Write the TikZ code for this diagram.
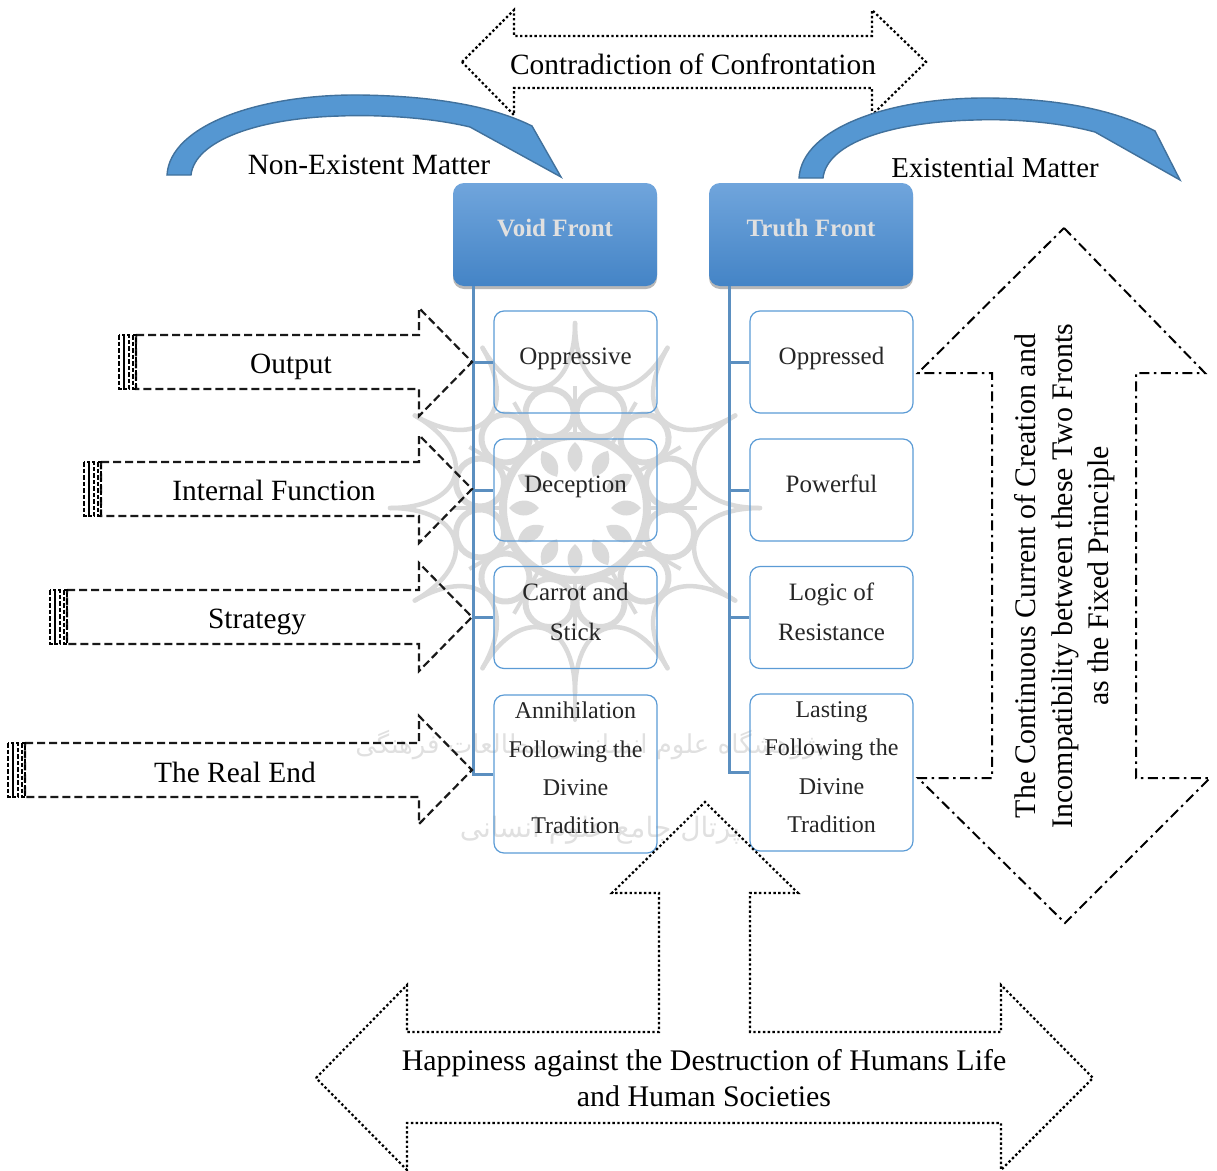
\documentclass[tikz,border=0pt]{standalone}
\usepackage{fontspec}
\setmainfont{Liberation Serif}
\newfontfamily\arabicfont[Script=Arabic]{DejaVu Sans}
\TeXXeTstate=1
\usetikzlibrary{shadows,calc}
\definecolor{blueline}{HTML}{5B9BD5}
\definecolor{trunkblue}{HTML}{5B8FC0}
\definecolor{arcfill}{HTML}{5597D2}
\definecolor{arcline}{HTML}{41719C}
\definecolor{headtop}{HTML}{70A5DC}
\definecolor{headbot}{HTML}{4484C6}
\definecolor{wm}{HTML}{DADADA}
\definecolor{wmlight}{HTML}{E0E0E0}
\tikzset{
  x=1pt,y=-1pt,
  bigtext/.style={font=\fontsize{29.4}{36}\selectfont,text=black,align=center,inner sep=0pt},
  widetext/.style={font=\fontsize{29.9}{36.5}\selectfont,text=black,align=center,inner sep=0pt},
  boxtext/.style={font=\fontsize{25}{39.5}\selectfont,text=black!85,align=center,inner sep=0pt},
  boxlong/.style={font=\fontsize{24}{38.4}\selectfont,text=black!85,align=center,inner sep=0pt},
  headbox/.style={rounded corners=11pt,top color=headtop,bottom color=headbot,draw=none,
     drop shadow={shadow xshift=0pt,shadow yshift=-3pt,fill=black,opacity=.28},
     minimum width=204pt,minimum height=103pt,inner sep=0pt},
  headtext/.style={font=\fontsize{25}{30}\selectfont\bfseries,text=white!88!black,inner sep=0pt},
  childbox/.style={rounded corners=10pt,draw=blueline,line width=1.2pt,minimum width=163pt,inner sep=0pt},
  trunk/.style={draw=trunkblue,line width=3pt},
  arcshape/.style={fill=arcfill,draw=arcline,line width=1.4pt,line join=miter},
  dotline/.style={draw=black,line width=2.2pt,dash pattern=on 2.4pt off 2.4pt},
  dashline/.style={draw=black!90,line width=2.2pt,dash pattern=on 8pt off 4pt},
  stripeline/.style={draw=black,line width=2pt,dash pattern=on 4.5pt off 2pt},
  dashdot/.style={draw=black,line width=2pt,dash pattern=on 10pt off 4.5pt on 2.5pt off 4.5pt},
  wmline/.style={draw=wm,line width=6pt,line cap=round}
}
\begin{document}
\begin{tikzpicture}
\useasboundingbox (0,0) rectangle (1217,1170);
% watermark
\begin{scope}[shift={(575,508)}]
  \foreach \a in {0,30,...,330}{
    \begin{scope}[rotate=\a]
      \draw[wmline,line width=4.5pt] (185,0) .. controls (110,0) and (95.3,55) .. (160.2,92.5);
      \draw[wmline] (95,25.5) circle (24);
      \draw[wm,line width=4pt] (72,0) -- (122,0);
      \fill[wm] (36,0) .. controls (46,-11) and (58,-9) .. (66,0) .. controls (58,9) and (46,11) .. (36,0) -- cycle;
    \end{scope}
  }
  \draw[wm,line width=8pt] (0,0) circle (72);
  \draw[wmline,line width=4pt] (0,185) -- (0,212);
\end{scope}
\node[font=\fontsize{26}{26}\selectfont\arabicfont,text=wmlight,inner sep=0pt] (wmA) at (590,745) {\beginR پژوهشگاه علوم انسانی و مطالعات فرهنگی\endR};
\node[font=\fontsize{28}{28}\selectfont\arabicfont,text=wmlight,inner sep=0pt] (wmB) at (600,830) {\beginR پرتال جامع علوم انسانی\endR};

% top arrow
\draw[dotline] (462,62) -- (514,10) -- (514,36) -- (872,36) -- (872,10) -- (926,62) -- (872,115) -- (872,88) -- (514,88) -- (514,115) -- cycle;
\node[bigtext] (contra) at (693,64) {Contradiction of Confrontation};

% curved arrows
\draw[arcshape] (167,175) .. controls (170,125) and (260,94) .. (360,95) .. controls (430,96) and (490,105) .. (532,126) -- (561,177) -- (470,127) .. controls (420,115) and (360,115) .. (340,116) .. controls (260,118) and (195,140) .. (191,175) -- cycle;
\draw[arcshape] (799,178) .. controls (802,128) and (890,97) .. (990,98) .. controls (1060,99) and (1115,110) .. (1155,131) -- (1180,180) -- (1095,132) .. controls (1050,120) and (1000,119) .. (975,120) .. controls (890,122) and (827,143) .. (823,178) -- cycle;
\node[bigtext] (nonex) at (369,165) {Non-Existent Matter};
\node[bigtext,font=\fontsize{28.8}{36}\selectfont] (exist) at (995,168) {Existential Matter};

% headers
\node[headbox] (void) at (555,234.5) {};
\node[headbox] (truth) at (811,234.5) {};
\node[headtext] (voidT) at (555,228) {Void Front};
\node[headtext] (truthT) at (811,228) {Truth Front};

% child boxes
\node[childbox,minimum height=102pt] (l1) at (575.5,362) {};
\node[childbox,minimum height=102pt] (l2) at (575.5,490) {};
\node[childbox,minimum height=102pt] (l3) at (575.5,617.5) {};
\node[childbox,minimum height=158pt] (l4) at (575.5,774) {};
\node[childbox,minimum height=102pt] (r1) at (831.5,362) {};
\node[childbox,minimum height=102pt] (r2) at (831.5,490) {};
\node[childbox,minimum height=102pt] (r3) at (831.5,617.5) {};
\node[childbox,minimum height=157pt] (r4) at (831.5,772.5) {};

\node[boxtext] at (575.5,359) {Oppressive};
\node[boxtext] at (575.5,487) {Deception};
\node[boxtext] at (575.5,612) {Carrot and\\Stick};
\node[boxlong] at (575.5,768) {Annihilation\\Following the\\Divine\\Tradition};
\node[boxtext] at (831.5,358) {Oppressed};
\node[boxtext] at (831.5,484) {Powerful};
\node[boxtext] at (831.5,612) {Logic of\\Resistance};
\node[boxlong] at (831.5,767) {Lasting\\Following the\\Divine\\Tradition};

% connectors
\coordinate (lt) at ([xshift=-82pt]void.south);
\coordinate (rt) at ([xshift=-82pt]truth.south);
\draw[trunk] (lt) |- (l1.west);
\draw[trunk] (lt) |- (l2.west);
\draw[trunk] (lt) |- (l3.west);
\draw[trunk] (lt) |- (l4.west);
\draw[trunk] (rt) |- (r1.west);
\draw[trunk] (rt) |- (r2.west);
\draw[trunk] (rt) |- (r3.west);
\draw[trunk] (rt) |- (r4.west);

% striped arrows
\foreach \xa/\yc/\lab/\lx/\dy/\nm in {119/362/Output/291/5/a1, 84/489/Internal Function/274/1/a2, 50/617/Strategy/257/5/a3, 8/770/The Real End/235/2/a4}{
  \draw[dashline] (\xa+17,\yc-27) -- (419,\yc-27) -- (419,\yc-54) -- (472,\yc) -- (419,\yc+54) -- (419,\yc+27) -- (\xa+17,\yc+27) -- cycle;
  \draw[stripeline] (\xa,\yc-27) rectangle (\xa+5,\yc+27);
  \draw[stripeline] (\xa+5,\yc-27) rectangle (\xa+10,\yc+27);
  \draw[stripeline] (\xa+14,\yc-27) rectangle (\xa+17,\yc+27);
  \node[bigtext] (\nm) at (\lx,\yc+\dy) {\lab};
}

% right arrow
\draw[dashdot] (1064,228) -- (1205,373) -- (1136,373) -- (1136,778) -- (1210,778) -- (1065,923) -- (918,778) -- (992,778) -- (992,373) -- (918,373) -- cycle;
\node[widetext,rotate=90] (cur) at (1065,576) {The Continuous Current of Creation and\\Incompatibility between these Two Fronts\\as the Fixed Principle};

% bottom arrow
\draw[dotline] (316,1078) -- (407,985) -- (407,1032) -- (659,1032) -- (659,893) -- (612,893) -- (705,802) -- (798,893) -- (750,893) -- (750,1032) -- (1001,1032) -- (1001,985) -- (1093,1078) -- (1001,1170) -- (1001,1123) -- (407,1123) -- (407,1170) -- cycle;
\node[widetext] (happy) at (704,1078) {Happiness against the Destruction of Humans Life\\and Human Societies};
\end{tikzpicture}
\end{document}
